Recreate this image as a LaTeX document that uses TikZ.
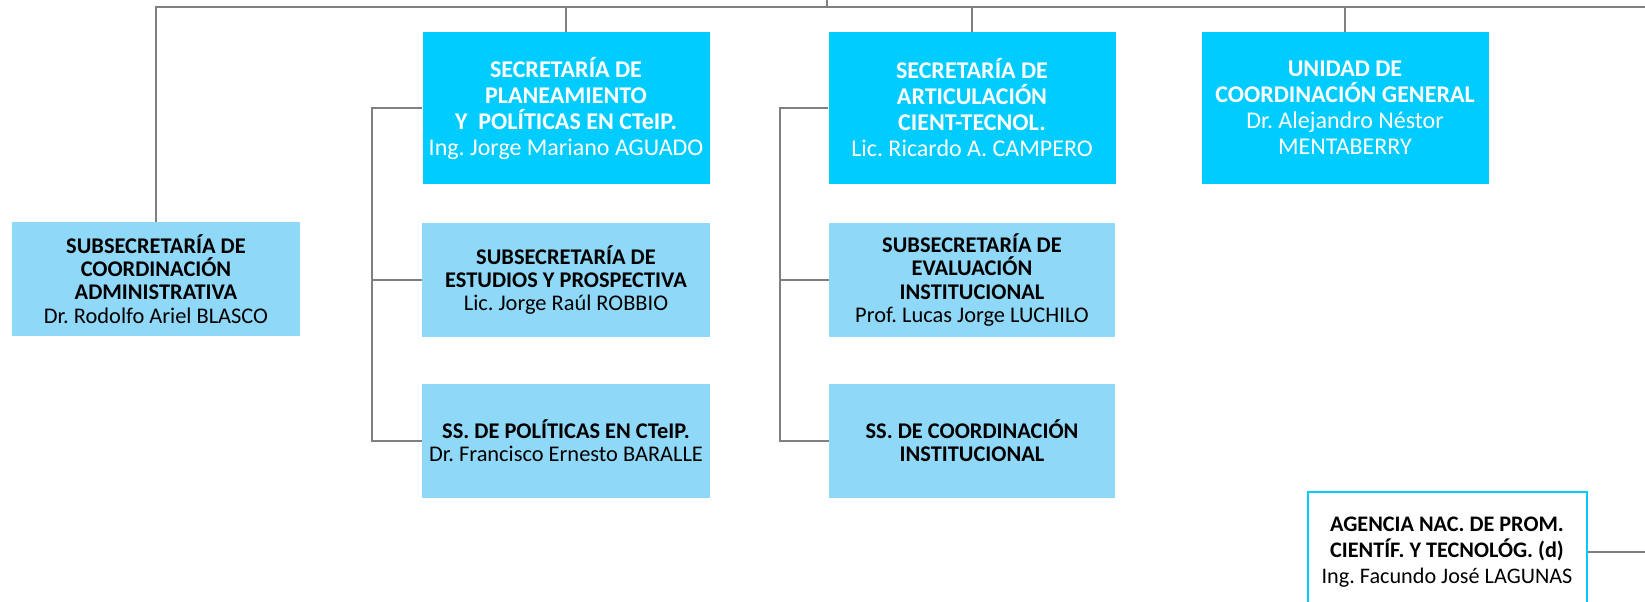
\documentclass[tikz,border=0pt]{standalone}
\usepackage{fontspec}
\setmainfont{Carlito}
\frenchspacing
\usepackage{xcolor}
\definecolor{cyanbox}{HTML}{00CCFF}
\definecolor{lightbox}{HTML}{8FD8F7}
\definecolor{linegray}{HTML}{808080}
\usepackage{tikz}
\usetikzlibrary{positioning,calc}
\tikzset{
    secretary/.style={fill=cyanbox, text=white, align=center, inner sep=0pt, minimum width=143.5pt, minimum height=76pt, font=\fontsize{12}{13}\selectfont},
    subsecretary/.style={fill=lightbox, text=black, align=center, inner sep=0pt, minimum width=144pt, minimum height=57pt, font=\fontsize{11.2}{11.6}\selectfont},
    agencybox/.style={draw=cyanbox, line width=1pt, fill=white, align=center, inner sep=0pt, minimum width=139.5pt, minimum height=60pt, font=\fontsize{11.1}{13}\selectfont},
    link/.style={draw=linegray, line width=0.9pt}
}

\begin{document}
\begin{tikzpicture}[x=0.5pt, y=-0.5pt]
  \useasboundingbox (0,0) rectangle (1645,601);

  % Secretarias (top row)
  \node[secretary] (planning) at (566,108) {
    \textbf{SECRETARÍA DE}\\\textbf{PLANEAMIENTO}\\
    \textbf{Y\ \ POLÍTICAS EN CTeIP.}\\
    Ing. Jorge Mariano AGUADO
  };

  \node[secretary] (articulation) at (972,108) {
    \textbf{SECRETARÍA DE}\\\textbf{ARTICULACIÓN}\\
    \textbf{CIENT-TECNOL.}\\
    Lic. Ricardo A. CAMPERO
  };

  \node[secretary] (coordunit) at (1345,108) {
    \textbf{UNIDAD DE}\\\textbf{COORDINACIÓN GENERAL}\\
    Dr. Alejandro Néstor\\
    MENTABERRY
  };

  % Subsecretarias
  \node[subsecretary] (adminsub) at (156,279) {
    \textbf{SUBSECRETARÍA DE}\\\textbf{COORDINACIÓN}\\
    \textbf{ADMINISTRATIVA}\\
    Dr. Rodolfo Ariel BLASCO
  };

  \node[subsecretary] (studies) at (566,280) {
    \textbf{SUBSECRETARÍA DE}\\\textbf{ESTUDIOS Y PROSPECTIVA}\\
    Lic. Jorge Raúl ROBBIO
  };

  \node[subsecretary] (policies) at (566,441) {
    \textbf{SS. DE POLÍTICAS EN CTeIP.}\\
    Dr. Francisco Ernesto BARALLE
  };

  \node[subsecretary, minimum width=143pt] (evaluation) at (972,280) {
    \textbf{SUBSECRETARÍA DE}\\\textbf{EVALUACIÓN}\\
    \textbf{INSTITUCIONAL}\\
    Prof. Lucas Jorge LUCHILO
  };

  \node[subsecretary, minimum width=143pt] (instcoord) at (972,441) {
    \textbf{SS. DE COORDINACIÓN}\\\textbf{INSTITUCIONAL}
  };

  % Decentralized agency
  \node[agencybox] (agency) at (1447,552) {
    \textbf{AGENCIA NAC. DE PROM.}\\\textbf{CIENTÍF. Y TECNOLÓG. (d)}\\
    Ing. Facundo José LAGUNAS
  };

  % Main bus
  \coordinate (root) at (827,0);
  \coordinate (busleft) at (156,7);
  \coordinate (busright) at (1645,7);
  \draw[link] (adminsub.north) -- (busleft) -- (busright);
  \draw[link] (root) -- (root |- busleft);
  \draw[link] (planning.north |- busleft) -- (planning.north);
  \draw[link] (articulation.north |- busleft) -- (articulation.north);
  \draw[link] (coordunit.north |- busleft) -- (coordunit.north);

  % Brackets to the subsecretarias
  \coordinate (planbus) at ([xshift=-25pt]planning.west);
  \draw[link] (planning.west) -- (planbus) |- (policies.west);
  \draw[link] (studies.west) -- (studies.west -| planbus);

  \coordinate (articbus) at ([xshift=-24pt]articulation.west);
  \draw[link] (articulation.west) -- (articbus) |- (instcoord.west);
  \draw[link] (evaluation.west) -- (evaluation.west -| articbus);

  \draw[link] (agency.east) -- (agency.east -| busright);
\end{tikzpicture}
\end{document}
